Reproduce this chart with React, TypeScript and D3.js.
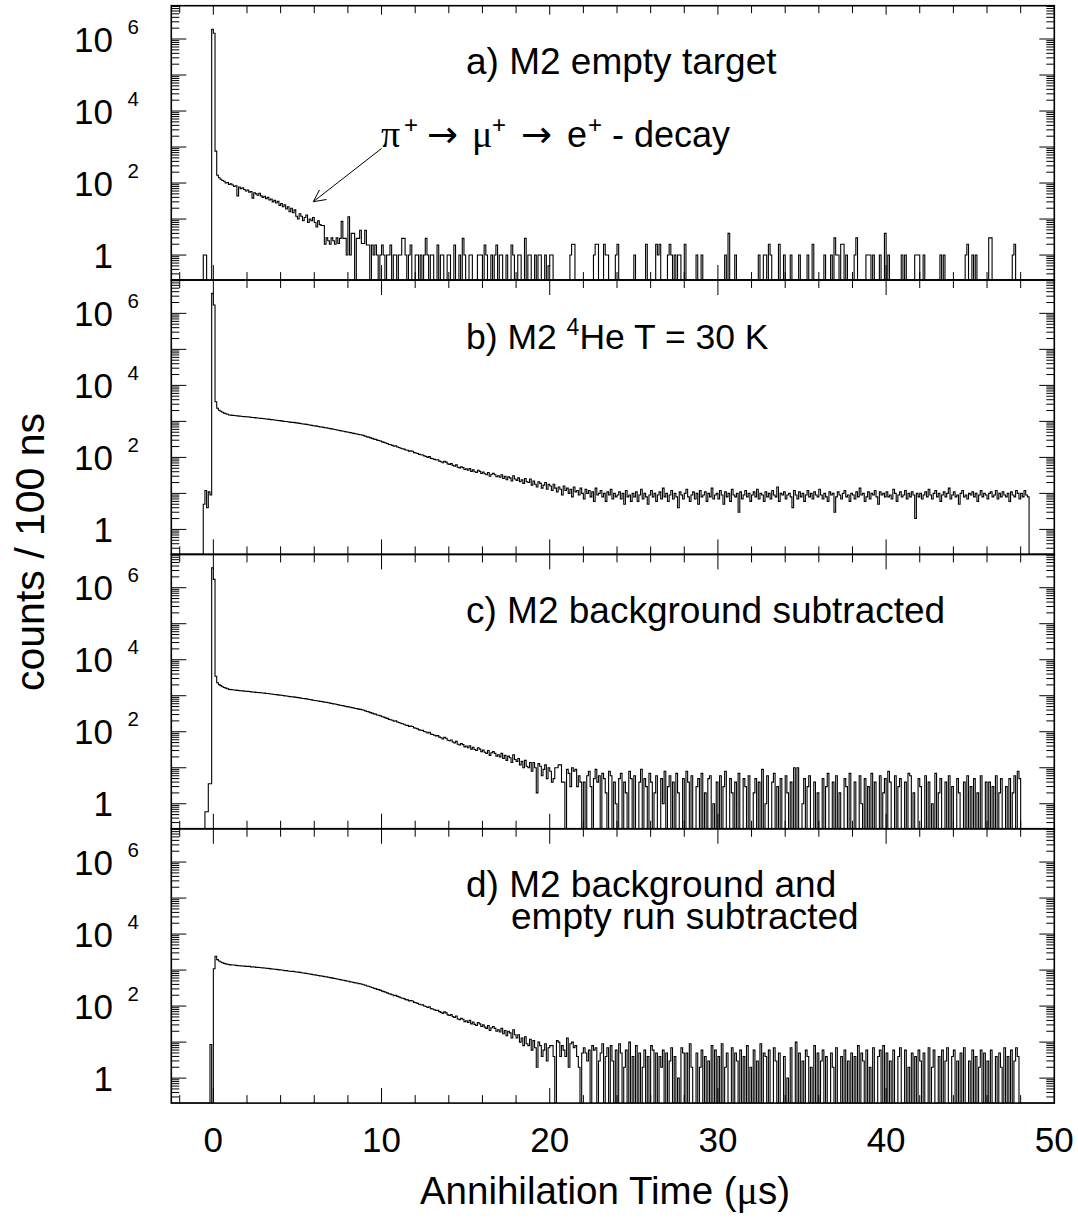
import React from "react";
import * as d3 from "d3";

// ---------------- data ----------------
const timeMin = -2.5;
const timeMax = 50;
const binWidth = 0.1;

const xMajorTicks = [0, 10, 20, 30, 40, 50];
const xTickLabels = ["0", "10", "20", "30", "40", "50"];
const yLabelExponents = [6, 4, 2, 0];

// a) M2 empty target
const aStart = -0.6;
const aValues = [
  1, 1, 0, 0, 0,
  1860000, 1440000, 770,
  164, 140, 128, 118, 112, 100, 104, 92, 96, 88,
  80, 84, 44, 78, 70, 74, 66, 60, 64, 56,
  58, 38, 54, 50, 46, 52, 44, 40, 43, 37,
  40, 34, 36, 30, 33, 28, 31, 24, 27, 22,
  25, 19, 22, 16, 20, 15, 18, 12, 10, 14,
  12, 9, 11, 13, 8, 10, 9, 11, 8, 6,
  9, 7, 6.6, 6.6, 2, 3, 2.5, 2, 3, 2.5,
  2, 3, 2.1, 2.9, 8.6, 2.9, 2.9, 1, 11.6, 1,
  4, 4, 0, 2.9, 2.9, 4.9, 2.1, 2.1, 4.9,
];
const aSpikes: [number, number][] = [
  [9.1, 1.9], [9.2, 1.9], [9.4, 1.9], [9.5, 1], [9.6, 1.9], [9.7, 1], [9.9, 1], [10.0, 1.9],
  [10.1, 1], [10.3, 1], [10.4, 1], [10.5, 1.9], [10.7, 1], [10.8, 1], [11.0, 1], [11.1, 1],
  [11.2, 2.9], [11.3, 2.9], [11.4, 1], [11.6, 1], [11.7, 1.9], [12.0, 1], [12.1, 1], [12.3, 1],
  [12.5, 1], [12.6, 2.9], [12.7, 1], [12.9, 1], [13.0, 1], [13.3, 1.9], [13.5, 1], [13.6, 1],
  [13.9, 1], [14.0, 1], [14.3, 1.9], [14.6, 1], [14.8, 2.9], [14.9, 1], [15.2, 1], [15.3, 1],
  [15.7, 1], [15.8, 1], [15.9, 1], [16.1, 1.9], [16.2, 1], [16.5, 1], [16.7, 1], [16.8, 1.9],
  [17.0, 1], [17.1, 1], [17.4, 1], [17.7, 1.9], [17.8, 1], [18.1, 1], [18.2, 1], [18.5, 2.9],
  [18.7, 1], [18.8, 1], [19.1, 1], [19.3, 1], [19.4, 1], [19.7, 1],
  [19.9, 0.5], [20.0, 1], [20.1, 1], [21.2, 1], [21.3, 2], [21.4, 2], [22.6, 1], [22.7, 2],
  [22.8, 2], [23.2, 2], [23.3, 1], [23.4, 1], [23.9, 1], [24.0, 2], [25.0, 1], [25.7, 2],
  [26.3, 2], [26.4, 1], [26.5, 2], [27.0, 1], [27.1, 2], [27.2, 1], [27.4, 1], [27.6, 1],
  [27.7, 1], [28.0, 2], [28.7, 1], [29.0, 1], [30.4, 1], [30.6, 4], [31.0, 1], [32.4, 1],
  [32.7, 1], [32.8, 1], [33.0, 2], [33.1, 1], [33.6, 2], [33.9, 1], [34.3, 1], [34.8, 1],
  [35.3, 1], [35.6, 2], [36.3, 1], [36.7, 1], [36.9, 3], [37.0, 1], [37.1, 1], [37.3, 2],
  [37.4, 2], [37.6, 1], [38.1, 1], [38.2, 3], [38.8, 1], [38.9, 1], [39.0, 1], [39.2, 1],
  [39.6, 1], [39.9, 4], [40.1, 1], [40.9, 1], [41.1, 1], [41.7, 1], [41.8, 1], [41.9, 1],
  [42.2, 1], [43.2, 1], [43.4, 1], [44.7, 1], [44.8, 2], [45.1, 1], [45.3, 1], [46.1, 3],
  [46.2, 3], [47.5, 1], [47.6, 2],
];

// b) M2 4He T = 30 K
const bStart = -0.6;
const bValues = [
  5, 12, 4, 11, 9,
  3600000, 1700000, 3500,
  2310, 2045, 1912, 1788, 1694, 1630, 1571, 1507,
  1490, 1468, 1455, 1437, 1420, 1398, 1386, 1372, 1355, 1340,
  1331, 1318, 1290, 1282, 1270, 1251, 1240, 1226, 1213, 1200,
  1188, 1166, 1158, 1139, 1121, 1110, 1094, 1080, 1062, 1047,
  1035, 1019, 996, 988, 975, 955, 941, 938, 921, 910,
  896, 880, 862, 849, 838, 825, 803, 796, 774, 760,
  748, 737, 720, 706, 698, 682, 665, 660, 645, 630,
  618, 602, 596, 578, 566, 554, 542, 530, 519, 507,
  498, 488, 476, 465, 452, 446, 434, 425, 417, 402,
  388, 372, 365, 348, 337, 322, 316, 301, 295, 284,
  270, 262, 251, 243, 229, 224, 216, 203, 209, 195,
  189, 180, 174, 170, 160, 158, 149, 152, 148, 136,
  133, 128, 121, 118, 117, 110, 106, 100, 105, 94,
  92, 88, 85, 86, 79, 76, 71, 78, 74, 66,
  64, 67, 60, 57, 62, 53, 51, 55, 52, 46,
  48, 44, 49, 41, 45, 40, 38, 44, 41, 36,
  39, 35, 33, 38, 30, 34, 36, 33, 29, 31,
  28, 33, 26, 30, 24, 29, 27, 22, 31, 25,
  23, 27, 21, 24, 19, 26, 21, 20, 25, 17,
  22, 18, 15, 21, 19, 14, 17, 20, 13, 18,
  16, 12, 18, 14, 11, 15, 13, 9, 16, 12,
  14, 10, 13, 8, 15, 11, 12, 9, 14, 10,
  7, 13, 10, 12, 8, 11, 6, 14, 9, 10,
  12, 8, 10, 6, 11, 9, 13, 7, 10, 8,
  9, 11, 7, 10, 5, 12, 8, 9, 6, 10,
  8, 11, 6, 9, 13, 7, 10, 8, 5, 9,
  12, 8, 10, 6, 9, 11, 7, 14, 8, 10,
  6, 9, 12, 7, 10, 8, 4, 11, 9, 7,
  10, 13, 8, 6, 9, 11, 7, 10, 5, 12,
  8, 9, 11, 6, 10, 8, 14, 7, 9, 10,
  7, 12, 9, 5, 11, 8, 10, 6, 13, 9,
  8, 10, 3, 11, 7, 9, 12, 8, 10, 6,
  9, 11, 8, 13, 7, 10, 9, 6, 11, 8,
  10, 7, 12, 9, 8, 15, 6, 10, 9, 11,
  7, 9, 10, 8, 4, 12, 9, 7, 11, 8,
  10, 6, 9, 12, 8, 10, 7, 11, 9, 8,
  13, 9, 7, 10, 8, 6, 11, 9, 10, 3,
  8, 11, 9, 7, 10, 12, 8, 9, 6, 10,
  9, 7, 11, 8, 14, 9, 10, 6, 8, 11,
  7, 10, 9, 12, 8, 5, 11, 9, 10, 8,
  11, 8, 9, 7, 13, 10, 6, 9, 11, 8,
  9, 12, 7, 10, 8, 11, 9, 2, 10, 8,
  10, 7, 9, 11, 8, 13, 9, 7, 10, 12,
  8, 10, 6, 9, 11, 8, 10, 14, 7, 9,
  11, 8, 9, 5, 10, 12, 8, 9, 7, 10,
  9, 11, 8, 10, 6, 9, 12, 8, 10, 9,
  7, 10, 11, 8, 9, 12, 7, 10, 8, 11,
  9, 8, 10, 6, 11, 9, 8, 12, 10, 7,
  10, 8, 12, 9, 8,
];

// c) M2 background subtracted
const cStart = -0.5;
const cValues = [
  0.6, 0.6, 3.6, 3.6,
  3600000, 1700000, 3490,
  2300, 2037, 1905, 1779, 1686, 1622, 1563, 1499,
  1482, 1460, 1447, 1429, 1412, 1390, 1378, 1364, 1347, 1332,
  1323, 1310, 1282, 1274, 1262, 1243, 1232, 1218, 1205, 1192,
  1180, 1158, 1150, 1131, 1113, 1102, 1086, 1072, 1054, 1039,
  1027, 1011, 988, 980, 967, 947, 933, 930, 913, 902,
  888, 872, 854, 841, 830, 817, 795, 788, 766, 752,
  740, 729, 712, 698, 690, 674, 657, 652, 637, 622,
  610, 594, 588, 570, 558, 546, 534, 522, 511, 499,
  490, 480, 468, 457, 444, 438, 426, 417, 409, 394,
  380, 364, 357, 340, 329, 314, 308, 293, 287, 276,
  262, 254, 243, 235, 221, 216, 208, 195, 201, 187,
  181, 172, 166, 162, 152, 150, 141, 144, 140, 128,
  125, 120, 113, 110, 109, 102, 98, 92, 97, 86,
  84, 80, 77, 78, 71, 68, 63, 70, 66, 58,
  56, 59, 52, 49, 54, 45, 43, 47, 44, 38,
  40, 36, 41, 33, 37, 32, 30, 36, 33, 28,
  31, 27, 25, 30, 22, 26, 28, 25, 21, 23,
  20, 25, 18, 22, 16, 21, 19, 14, 23, 17,
  15, 18, 12, 15, 10, 16, 11, 10, 14, 8,
  14, 10, 2, 13, 11, 6, 9, 12, 5, 10,
  8, 4, 5, 10, 10, 12, 12, 4, 4, 0,
  9, 7, 3, 10, 8, 9, 3, 6, 4, 0,
  4, 0, 6, 8, 3, 0, 5, 9, 4, 6,
  0, 7, 5, 2, 0, 8, 6, 0, 4, 1,
  0, 5, 7, 0, 4, 2, 0, 8, 5, 0,
  6, 0, 0, 4, 9, 0, 5, 3, 0, 7,
  4, 0, 2, 6, 0, 0, 5, 1, 8, 0,
  3, 6, 0, 4, 0, 7, 2, 0, 0, 5,
  0, 8, 4, 0, 6, 0, 0, 3, 5, 0,
  7, 0, 2, 0, 5, 6, 0, 1, 0, 4,
  0, 6, 0, 3, 8, 0, 0, 5, 2, 0,
  4, 0, 7, 0, 0, 5, 3, 0, 6, 0,
  0, 2, 5, 0, 4, 0, 9, 0, 1, 6,
  0, 0, 4, 7, 0, 3, 0, 5, 0, 0,
  6, 2, 0, 4, 0, 10, 0, 10, 0, 0,
  1, 5, 0, 3, 6, 0, 0, 4, 0, 2,
  0, 0, 5, 0, 3, 7, 0, 0, 4, 0,
  6, 0, 2, 0, 0, 5, 3, 0, 7, 0,
  0, 4, 0, 0, 6, 1, 0, 5, 0, 3,
  0, 7, 0, 4, 0, 0, 6, 0, 2, 5,
  0, 8, 4, 0, 0, 6, 0, 3, 5, 0,
  0, 4, 0, 7, 6, 0, 2, 0, 0, 5,
  3, 0, 0, 6, 0, 4, 0, 1, 0, 7,
  0, 2, 5, 0, 0, 4, 0, 6, 0, 3,
  0, 0, 5, 2, 0, 0, 4, 0, 6, 0,
  3, 0, 5, 0, 2, 0, 6, 0, 0, 4,
  0, 4, 0, 3, 0, 6, 0, 2, 5, 0,
  0, 3, 0, 5, 0, 2, 6, 0, 8, 5,
  0, 0, 0, 0, 0,
];

// d) M2 background and empty run subtracted
const dStart = -0.2;
const dValues = [
  8.6, 0, 1090,
  2430, 1950, 1780, 1680, 1600, 1540, 1490, 1450, 1420,
  1395, 1378, 1390, 1352, 1334, 1322, 1306, 1300, 1285, 1270,
  1266, 1270, 1230, 1226, 1218, 1190, 1190, 1178, 1160, 1155,
  1140, 1124, 1114, 1100, 1080, 1074, 1055, 1048, 1028, 1016,
  1002, 992, 966, 964, 947, 932, 915, 918, 900, 888,
  876, 862, 843, 828, 822, 807, 788, 779, 760, 744,
  735, 722, 708, 692, 687, 669, 653, 646, 634, 618,
  607, 590, 586, 566, 556, 544, 531, 520, 509, 496,
  488, 470, 465, 453, 442, 436, 421, 418, 404, 392,
  378, 362, 355, 338, 328, 312, 306, 291, 286, 274,
  261, 253, 242, 233, 220, 215, 207, 194, 200, 186,
  180, 171, 165, 161, 151, 149, 140, 143, 139, 127,
  124, 119, 112, 109, 108, 101, 97, 91, 96, 85,
  83, 79, 76, 77, 70, 67, 62, 69, 65, 57,
  55, 58, 51, 48, 53, 44, 42, 46, 43, 37,
  39, 35, 40, 32, 36, 31, 29, 35, 32, 27,
  30, 26, 24, 29, 21, 25, 27, 24, 20, 22,
  19, 24, 17, 21, 15, 20, 18, 13, 22, 16,
  13, 16, 10, 13, 8, 14, 9, 8, 12, 6,
  11, 7, 2, 10, 8, 4, 6, 9, 3, 7,
  8, 8, 4, 0, 11, 10, 4, 8, 6, 4,
  13, 2, 9, 10, 7, 8, 4, 2, 0, 5,
  7, 5, 3, 6, 0, 8, 6, 7, 0, 3,
  5, 9, 0, 4, 7, 0, 8, 3, 0, 6,
  0, 9, 5, 0, 2, 6, 0, 10, 0, 4,
  0, 8, 0, 5, 0, 2, 6, 0, 4, 0,
  8, 6, 0, 5, 0, 4, 2, 6, 0, 5,
  0, 3, 7, 0, 4, 0, 1, 0, 7, 5,
  0, 5, 0, 9, 2, 0, 0, 5, 0, 2,
  6, 0, 4, 0, 3, 0, 8, 0, 6, 0,
  4, 0, 9, 0, 2, 5, 0, 0, 7, 0,
  5, 3, 0, 6, 0, 4, 0, 8, 0, 2,
  0, 6, 0, 3, 0, 9, 0, 5, 4, 0,
  6, 0, 0, 7, 3, 0, 5, 0, 0, 4,
  0, 1, 0, 7, 0, 0, 10, 0, 5, 0,
  3, 0, 6, 4, 0, 2, 0, 8, 0, 5,
  0, 3, 6, 0, 4, 0, 0, 5, 2, 0,
  7, 0, 0, 4, 0, 6, 0, 3, 0, 5,
  0, 4, 0, 8, 0, 5, 3, 0, 6, 0,
  2, 0, 7, 0, 0, 4, 6, 0, 8, 0,
  5, 0, 3, 0, 6, 0, 0, 4, 7, 0,
  0, 6, 0, 2, 0, 5, 0, 4, 0, 6,
  3, 0, 5, 0, 0, 7, 0, 2, 6, 0,
  0, 4, 0, 6, 0, 3, 7, 0, 0, 4,
  6, 0, 3, 0, 5, 0, 7, 0, 0, 3,
  0, 6, 0, 4, 0, 2, 6, 0, 5, 0,
  3, 0, 6, 0, 0, 4, 0, 5, 2, 0,
  7, 0, 4, 0, 6, 0, 3, 7, 4, 0,
  0, 0, 0, 0, 0,
];

// ---------------- layout ----------------
const W = 1078;
const H = 1226;
const plotLeft = 171.3;
const plotRight = 1054.3;
const firstTop = 5.7;
const panelH = 274.35;
const yLo = Math.pow(10, -0.694);
const yHi = Math.pow(10, 6.925);
const FONT = "'Liberation Sans', Arial, Helvetica, sans-serif";
const SERIF = "'Liberation Serif', 'Times New Roman', serif";
const ARROWFONT = "'DejaVu Sans', sans-serif";

function fillBins(start: number, values: number[], spikes: [number, number][] = []) {
  const n = Math.round((timeMax - timeMin) / binWidth);
  const arr: number[] = new Array(n).fill(0);
  const s = Math.round((start - timeMin) / binWidth);
  values.forEach((v, i) => {
    if (s + i >= 0 && s + i < n) arr[s + i] = v;
  });
  spikes.forEach(([t, v]) => {
    const k = Math.round((t - timeMin) / binWidth);
    if (k >= 0 && k < n) arr[k] = v;
  });
  return arr;
}

const panels = [
  { key: "a", bins: fillBins(aStart, aValues, aSpikes) },
  { key: "b", bins: fillBins(bStart, bValues) },
  { key: "c", bins: fillBins(cStart, cValues) },
  { key: "d", bins: fillBins(dStart, dValues) },
];

const x = d3.scaleLinear().domain([timeMin, timeMax]).range([plotLeft, plotRight]);

function Panel({ index, bins }: { index: number; bins: number[] }) {
  const top = firstTop + index * panelH;
  const bottom = top + panelH;
  const y = d3.scaleLog().domain([yLo, yHi]).range([bottom, top]);

  let d = `M${x(timeMin)},${bottom}`;
  bins.forEach((v, i) => {
    const x0 = x(timeMin + i * binWidth);
    const x1 = x(timeMin + (i + 1) * binWidth);
    const yy = v > yLo ? y(v) : bottom;
    d += `L${x0.toFixed(2)},${yy.toFixed(2)}L${x1.toFixed(2)},${yy.toFixed(2)}`;
  });
  d += `L${x(timeMax)},${bottom}`;

  const yTicks: { v: number; major: boolean }[] = [];
  for (let k = -1; k <= 6; k++) {
    for (let m = 1; m <= 9; m++) {
      const v = m * Math.pow(10, k);
      if (v >= yLo && v <= yHi) yTicks.push({ v, major: m === 1 });
    }
  }
  const xTicks: { t: number; major: boolean }[] = [];
  for (let t = -2; t <= 50; t += 2) xTicks.push({ t, major: xMajorTicks.includes(t) });

  const topMajor = index === 0 ? 9 : 15;
  const topMinor = index === 0 ? 7.5 : 8;

  return (
    <g>
      <defs>
        <clipPath id={`clip${index}`}>
          <rect x={plotLeft} y={top} width={plotRight - plotLeft} height={panelH} />
        </clipPath>
      </defs>
      <path d={d} fill="none" stroke="#000" strokeWidth={1.1} clipPath={`url(#clip${index})`} />
      {yTicks.map((tk, i) => {
        const yy = y(tk.v);
        const len = tk.major ? 15 : 8;
        return (
          <g key={`y${i}`} stroke="#000" strokeWidth={1}>
            <line x1={plotLeft} x2={plotLeft + len} y1={yy} y2={yy} />
            <line x1={plotRight} x2={plotRight - len} y1={yy} y2={yy} />
          </g>
        );
      })}
      {xTicks.map((tk, i) => {
        const xx = x(tk.t);
        return (
          <g key={`x${i}`} stroke="#000" strokeWidth={1}>
            <line x1={xx} x2={xx} y1={bottom} y2={bottom - (tk.major ? 15 : 8)} />
            <line x1={xx} x2={xx} y1={top} y2={top + (tk.major ? topMajor : topMinor)} />
          </g>
        );
      })}
      <rect x={plotLeft} y={top} width={plotRight - plotLeft} height={panelH} fill="none" stroke="#000" strokeWidth={1.6} />
      {yLabelExponents.map((e) => {
        const yy = y(Math.pow(10, e));
        if (e === 0) {
          return (
            <text key={`l${e}`} x={113} y={yy + 12.5} fontSize={35} textAnchor="end" fontFamily={FONT}>
              1
            </text>
          );
        }
        return (
          <g key={`l${e}`} fontFamily={FONT}>
            <text x={113} y={yy + 12.5} fontSize={35} textAnchor="end">
              10
            </text>
            <text x={127.5} y={yy - 5.5} fontSize={20.5}>
              {String(e)}
            </text>
          </g>
        );
      })}
    </g>
  );
}

export default function App() {
  const labelDy = 68.5;
  const tops = [0, 1, 2, 3].map((i) => firstTop + i * panelH);
  const lastBottom = firstTop + 4 * panelH;
  const annBase = 146.7;
  const supBase = 133;
  return (
    <svg
      width={W}
      height={H}
      viewBox={`0 0 ${W} ${H}`}
      style={{ position: "absolute", left: 0, top: 0, background: "#fff" }}
    >
      <rect x={0} y={0} width={W} height={H} fill="#fff" />
      {panels.map((p, i) => (
        <Panel key={p.key} index={i} bins={p.bins} />
      ))}

      <g fontFamily={FONT} fill="#000" style={{ whiteSpace: "pre" }}>
        <text x={466} y={tops[0] + labelDy} fontSize={37}>
          a) M2 empty target
        </text>
        <text y={annBase} fontSize={36}>
          <tspan x={381} y={annBase} fontFamily={SERIF} fontSize={38}>{"\u03c0"}</tspan>
          <tspan x={404} y={supBase} fontSize={24}>+</tspan>
          <tspan x={427} y={annBase} fontFamily={ARROWFONT} fontSize={37}>{"\u2192"}</tspan>
          <tspan x={472} y={annBase} fontFamily={SERIF} fontSize={38}>{"\u03bc"}</tspan>
          <tspan x={492} y={supBase} fontSize={24}>+</tspan>
          <tspan x={521} y={annBase} fontFamily={ARROWFONT} fontSize={37}>{"\u2192"}</tspan>
          <tspan x={567} y={annBase}>e</tspan>
          <tspan x={588} y={supBase} fontSize={24}>+</tspan>
          <tspan x={612} y={annBase}>- decay</tspan>
        </text>
        <text x={466} y={tops[1] + labelDy} fontSize={35.5}>
          {"b) M2 "}
          <tspan dy={-14} fontSize={23}>4</tspan>
          <tspan dy={14}>{"He T = 30 K"}</tspan>
        </text>
        <text x={466} y={tops[2] + labelDy} fontSize={37}>
          c) M2 background subtracted
        </text>
        <text fontSize={37}>
          <tspan x={466} y={tops[3] + labelDy}>d) M2 background and</tspan>
          <tspan x={511} y={tops[3] + labelDy + 31.5}>empty run subtracted</tspan>
        </text>

        {xMajorTicks.map((t, i) => (
          <text key={t} x={x(t)} y={lastBottom + 49} fontSize={35} textAnchor="middle">
            {xTickLabels[i]}
          </text>
        ))}
        <text x={605} y={lastBottom + 101} fontSize={38.5} textAnchor="middle">
          {"Annihilation Time ("}
          <tspan fontFamily={SERIF} fontSize={40}>{"\u03bc"}</tspan>
          {"s)"}
        </text>
        <text transform={`translate(44, 552) rotate(-90)`} fontSize={41} textAnchor="middle">
          counts / 100 ns
        </text>
      </g>

      <g stroke="#000" strokeWidth={1} fill="none">
        <line x1={381.5} y1={148.5} x2={313.3} y2={201.7} />
        <path d="M319.5,190 L313.3,201.7 L326.5,199.5" />
      </g>
    </svg>
  );
}
